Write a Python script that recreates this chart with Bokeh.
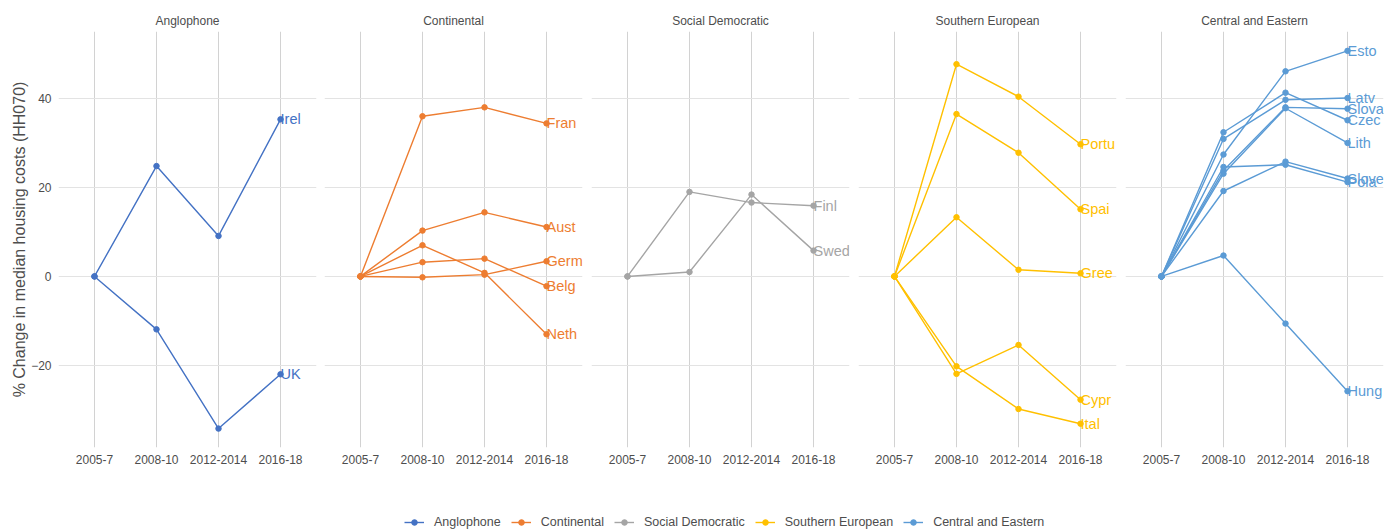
from bokeh.plotting import figure
from bokeh.layouts import column, row
from bokeh.models import (ColumnDataSource, FactorRange, Range1d, FixedTicker,
                          Legend, LegendItem)
from bokeh.embed import file_html
from bokeh.resources import INLINE
from bokeh.core.properties import value

# ---------------- data ----------------
periods = ["2005-7", "2008-10", "2012-2014", "2016-18"]
regimes = ["Anglophone", "Continental", "Social Democratic",
           "Southern European", "Central and Eastern"]
y_ticks = [-20, 0, 20, 40]

# Anglophone
irel = [0, 24.8, 9.1, 35.3]
uk = [0, -11.9, -34.2, -22.0]
# Continental
fran = [0, 36.0, 38.0, 34.4]
aust = [0, 10.3, 14.4, 11.1]
germ = [0, -0.2, 0.4, 3.4]
belg = [0, 3.2, 4.0, -2.2]
neth = [0, 7.0, 0.8, -13.0]
# Social Democratic
finl = [0, 19.0, 16.6, 15.9]
swed = [0, 1.0, 18.4, 5.8]
# Southern European
portu = [0, 47.7, 40.4, 29.7]
spai = [0, 36.5, 27.8, 15.1]
gree = [0, 13.3, 1.5, 0.7]
cypr = [0, -21.9, -15.4, -27.7]
ital = [0, -20.2, -29.8, -33.1]
# Central and Eastern
esto = [0, 27.4, 46.1, 50.7]
latv = [0, 30.9, 39.7, 40.1]
slova = [0, 23.8, 38.0, 37.7]
czec = [0, 32.4, 41.3, 35.1]
lith = [0, 23.1, 37.8, 30.0]
slove = [0, 19.2, 25.8, 22.0]
pola = [0, 24.6, 25.1, 21.2]
hung = [0, 4.7, -10.6, -25.8]

anglophone = [("Irel", irel), ("UK", uk)]
continental = [("Fran", fran), ("Aust", aust), ("Germ", germ),
               ("Belg", belg), ("Neth", neth)]
social_dem = [("Finl", finl), ("Swed", swed)]
southern = [("Portu", portu), ("Spai", spai), ("Gree", gree),
            ("Cypr", cypr), ("Ital", ital)]
central_east = [("Esto", esto), ("Latv", latv), ("Slova", slova),
                ("Czec", czec), ("Lith", lith), ("Pola", pola),
                ("Slove", slove), ("Hung", hung)]
groups = [anglophone, continental, social_dem, southern, central_east]

# ---------------- style ----------------
colors = ["#4472C4", "#ED7D31", "#A5A5A5", "#FFC000", "#5B9BD5"]
FONT = "Liberation Sans"
TXT = "#4d4d4d"

panels = []
for i, (regime, members, color) in enumerate(zip(regimes, groups, colors)):
    first = i == 0
    p = figure(width=320 if first else 267, height=500,
               x_range=FactorRange(factors=periods, range_padding=0.08,
                                   range_padding_units="absolute"),
               y_range=Range1d(-38.45, 55.05),
               output_backend="svg", toolbar_location=None,
               title=regime,
               min_border_left=58 if first else 4,
               min_border_right=4 if first else 5,
               min_border_top=31, min_border_bottom=53)
    p.outline_line_color = None
    p.title.align = "center"
    p.title.text_font = FONT
    p.title.text_font_size = "12px"
    p.title.text_font_style = "normal"
    p.title.text_color = TXT
    p.title.standoff = 7

    p.xaxis.axis_line_color = None
    p.xaxis.major_tick_line_color = None
    p.xaxis.minor_tick_line_color = None
    p.xaxis.major_tick_out = 0
    p.xaxis.major_label_standoff = 7
    p.xaxis.major_label_text_font = FONT
    p.xaxis.major_label_text_font_size = "12px"
    p.xaxis.major_label_text_color = TXT

    tk = FixedTicker(ticks=y_ticks)
    p.yaxis.ticker = tk
    p.ygrid.ticker = tk
    p.yaxis.axis_line_color = None
    p.yaxis.major_tick_line_color = None
    p.yaxis.minor_tick_line_color = None
    p.yaxis.major_tick_out = 0
    p.yaxis.major_label_standoff = 7
    p.yaxis.major_label_text_font = FONT
    p.yaxis.major_label_text_font_size = "12px"
    p.yaxis.major_label_text_color = TXT
    if first:
        p.yaxis.axis_label = "% Change in median housing costs (HH070)"
        p.yaxis.axis_label_text_font = FONT
        p.yaxis.axis_label_text_font_size = "16px"
        p.yaxis.axis_label_text_font_style = "normal"
        p.yaxis.axis_label_text_color = TXT
        p.yaxis.axis_label_standoff = 0
    else:
        p.yaxis.visible = False

    p.xgrid.grid_line_color = "#d2d2d2"
    p.ygrid.grid_line_color = "#e3e3e3"
    p.xgrid.grid_line_width = 1
    p.ygrid.grid_line_width = 1

    last_x, last_y, names = [], [], []
    for name, vals in members:
        p.line(x=periods, y=vals, line_color=color, line_width=1.4)
        p.scatter(x=periods, y=vals, size=5.5, color=color)
        last_x.append(periods[-1])
        last_y.append(vals[-1])
        names.append(name)
    src = ColumnDataSource(dict(x=last_x, y=last_y, t=names))
    p.text(x="x", y="y", text="t", source=src, text_color=color,
           text_font=value(FONT), text_font_size="14.5px",
           text_align="left", text_baseline="middle")
    panels.append(p)

# ---------------- legend ----------------
# legend-only figure: its y range lies outside every series, so the
# series drawn here only serve as legend keys
lf = figure(width=1388, height=29, x_range=FactorRange(factors=periods),
            y_range=Range1d(100, 101),
            toolbar_location=None, output_backend="svg", min_border=0,
            x_axis_location=None, y_axis_location=None)
lf.outline_line_color = None
lf.grid.visible = False
items = []
for regime, members, color in zip(regimes, groups, colors):
    vals = members[0][1]
    r1 = lf.line(x=periods, y=vals, line_color=color, line_width=1.4)
    r2 = lf.scatter(x=periods, y=vals, size=5, color=color)
    items.append(LegendItem(label=regime, renderers=[r1, r2]))
leg = Legend(items=items, orientation="horizontal", location=(404, 0),
             border_line_color=None, background_fill_alpha=0,
             padding=0, margin=0, spacing=10, label_standoff=10,
             glyph_width=20, glyph_height=14, label_height=14,
             label_text_font=FONT, label_text_font_size="12.5px",
             label_text_color=TXT)
lf.add_layout(leg)

layout = column(row(*panels), lf)
open("out.html", "w").write(file_html(layout, INLINE))
